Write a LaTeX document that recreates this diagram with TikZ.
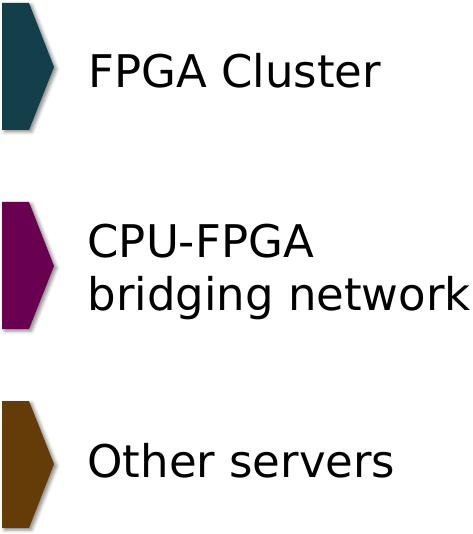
\documentclass[tikz,border=0pt]{standalone}
\usepackage{fontspec}
\setmainfont{DejaVu Sans}
\usetikzlibrary{shadows.blur}

\definecolor{clusterteal}{HTML}{133F4B}
\definecolor{bridgepurple}{HTML}{6A0050}
\definecolor{serverbrown}{HTML}{633C08}

\tikzset{every picture/.style={line width=0.75pt}}
\tikzset{
  chevron/.style={draw=none, blur shadow={shadow xshift=2pt, shadow yshift=-1.5pt, shadow blur radius=2.5pt, shadow opacity=45}},
  legendtext/.style={anchor=base west, inner sep=0pt, align=left, font=\fontsize{33.75}{39.75}\selectfont}
}

\begin{document}
\begin{tikzpicture}[x=0.75pt,y=0.75pt,yscale=-1,xscale=1]
    \useasboundingbox (0,0) rectangle (473,534);
    %Shape: Chevron [id:cluster]
    \fill [chevron, clusterteal] (2,3) -- (29,3) -- (54,67) -- (29,130) -- (2,130) -- cycle ;
    %Shape: Chevron [id:bridge]
    \fill [chevron, bridgepurple] (2,202) -- (29,202) -- (54,266) -- (29,329) -- (2,329) -- cycle ;
    %Shape: Chevron [id:servers]
    \fill [chevron, serverbrown] (2,401) -- (29,401) -- (54,464) -- (29,528) -- (2,528) -- cycle ;
    % Text Node
    \node [legendtext] (cluster) at (88,88) {FPGA Cluster};
    % Text Node (base sits on the last line)
    \node [legendtext] (bridge) at (87,310) {CPU-FPGA\\bridging network};
    % Text Node
    \node [legendtext] (servers) at (87,477) {Other servers};
\end{tikzpicture}
\end{document}
